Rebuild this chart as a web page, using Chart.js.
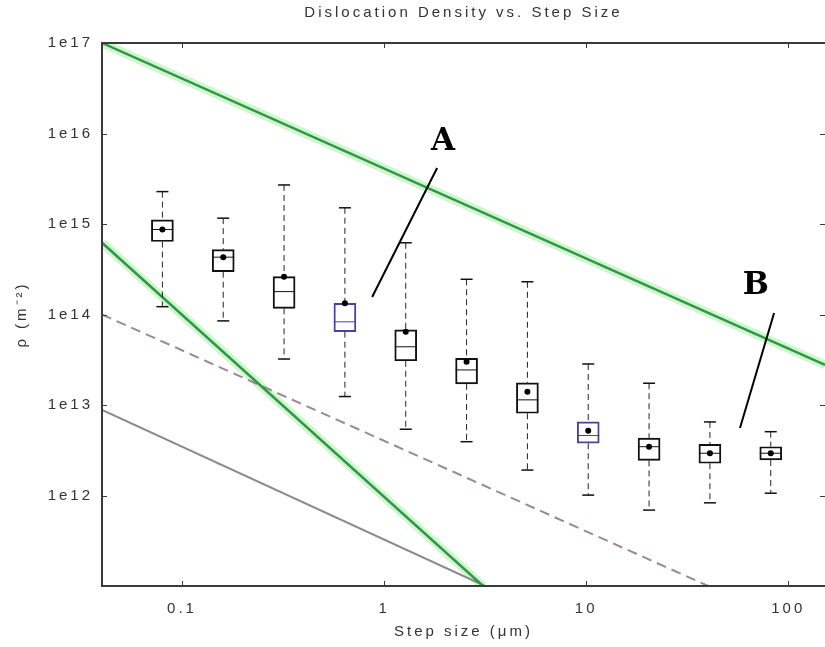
<!DOCTYPE html>
<html>
<head>
<meta charset="utf-8">
<title>Dislocation Density vs. Step Size</title>
<script src="https://cdn.jsdelivr.net/npm/chart.js@4/dist/chart.umd.min.js"></script>
<style>
  html, body { margin: 0; padding: 0; background: #fff; overflow: hidden; }
  canvas { display: block; }
</style>
</head>
<body>
<canvas id="c" width="825" height="647"></canvas>
<script>
// Step sizes (µm) of the EBSD scans
const stepSize = [0.08, 0.16, 0.32, 0.64, 1.28, 2.56, 5.12, 10.24, 20.48, 40.96, 81.92];

// Box-plot statistics of the measured dislocation density (m^-2)
const whiskerHigh   = [2.28e15, 1.16e15, 2.7e15, 1.51e15, 6.2e14, 2.45e14, 2.3e14, 2.84e13, 1.74e13, 6.5e12, 5.07e12];
const upperQuartile = [1.11e15, 5.2e14, 2.62e14, 1.33e14, 6.75e13, 3.28e13, 1.76e13, 6.5e12, 4.3e12, 3.68e12, 3.46e12];
const medianVal     = [8.7e14, 4.3e14, 1.79e14, 8.3e13, 4.4e13, 2.44e13, 1.14e13, 4.6e12, 3.46e12, 2.93e12, 2.93e12];
const lowerQuartile = [6.4e14, 2.97e14, 1.17e14, 6.46e13, 3.08e13, 1.71e13, 8.1e12, 3.78e12, 2.44e12, 2.27e12, 2.47e12];
const whiskerLow    = [1.22e14, 8.5e13, 3.22e13, 1.24e13, 5.4e12, 3.93e12, 1.91e12, 1.01e12, 6.9e11, 8.3e11, 1.06e12];
const meanVal       = [8.7e14, 4.3e14, 2.62e14, 1.33e14, 6.46e13, 3.01e13, 1.40e13, 5.2e12, 3.46e12, 2.93e12, 2.93e12];

// Resolution limits
const upperLimitX = [0.0402, 152];
const upperLimitY = [1e17, 2.77e13];
const steepLimitX = [0.0402, 3.09];
const steepLimitY = [6.2e14, 1e11];
const dashedLimitX = [0.0402, 40.2];
const dashedLimitY = [1e14, 1e11];
const lowerLimitX = [0.0402, 3.16];
const lowerLimitY = [8.8e12, 1e11];

// Tick values
const xTicks = [0.1, 1, 10, 100];
const xTickLabels = ['0.1', '1', '10', '100'];
const yTicks = [1e12, 1e13, 1e14, 1e15, 1e16, 1e17];
const yTickLabels = ['1e12', '1e13', '1e14', '1e15', '1e16', '1e17'];

// Callouts
const calloutText = ['A', 'B'];
const calloutLabelX = [1.96, 69.2];
const calloutLabelY = [8.05e15, 2.07e14];
const calloutFromX = [1.83, 85.1];
const calloutFromY = [4.16e15, 1.04e14];
const calloutToX = [0.873, 57.7];
const calloutToY = [1.56e14, 5.57e12];

const FONT = '"Liberation Sans", Arial, sans-serif';
const boxColor = stepSize.map((s, i) => (i === 3 || i === 7) ? '#44449c' : '#111');

const pts = (xs, ys) => xs.map((x, i) => ({ x: x, y: ys[i] }));

const whiskerPts = [];
stepSize.forEach((x, i) => {
  whiskerPts.push({ x, y: whiskerHigh[i] }, { x, y: upperQuartile[i] }, { x, y: null });
  whiskerPts.push({ x, y: lowerQuartile[i] }, { x, y: whiskerLow[i] }, { x, y: null });
});
const capPts = stepSize.map((x, i) => ({ x, y: whiskerHigh[i] }))
  .concat(stepSize.map((x, i) => ({ x, y: whiskerLow[i] })));

const lineDs = (data, color, width, dash) => ({
  type: 'line', data, borderColor: color, borderWidth: width, borderDash: dash || [],
  pointRadius: 0, fill: false, tension: 0
});

const framePlugin = {
  id: 'frame',
  beforeDraw(chart) {
    chart.ctx.letterSpacing = '3px';
  },
  afterDraw(chart) {
    const { ctx, chartArea: a, scales } = chart;
    ctx.save();
    ctx.letterSpacing = '0px';
    // callouts
    ctx.strokeStyle = '#000';
    ctx.lineWidth = 2;
    ctx.fillStyle = '#000';
    ctx.font = 'bold 31px "DejaVu Serif", "Liberation Serif", serif';
    ctx.textAlign = 'center';
    ctx.textBaseline = 'middle';
    calloutText.forEach((t, i) => {
      ctx.beginPath();
      ctx.moveTo(scales.x.getPixelForValue(calloutFromX[i]), scales.y.getPixelForValue(calloutFromY[i]));
      ctx.lineTo(scales.x.getPixelForValue(calloutToX[i]), scales.y.getPixelForValue(calloutToY[i]));
      ctx.stroke();
      ctx.fillText(t, scales.x.getPixelForValue(calloutLabelX[i]), scales.y.getPixelForValue(calloutLabelY[i]));
    });
    // axes (top, left, bottom) with inward ticks; the right edge runs off the canvas
    ctx.strokeStyle = '#3a3a3a';
    ctx.lineWidth = 2;
    ctx.beginPath();
    ctx.moveTo(a.right + 2, a.top);
    ctx.lineTo(a.left, a.top);
    ctx.lineTo(a.left, a.bottom);
    ctx.lineTo(a.right + 2, a.bottom);
    ctx.stroke();
    ctx.lineWidth = 1;
    ctx.beginPath();
    xTicks.forEach(v => {
      const px = Math.round(scales.x.getPixelForValue(v)) + 0.5;
      ctx.moveTo(px, a.bottom); ctx.lineTo(px, a.bottom - 5);
      ctx.moveTo(px, a.top); ctx.lineTo(px, a.top + 5);
    });
    yTicks.forEach(v => {
      const py = Math.round(scales.y.getPixelForValue(v)) + 0.5;
      ctx.moveTo(a.left, py); ctx.lineTo(a.left + 5, py);
      ctx.moveTo(a.right, py); ctx.lineTo(a.right - 5, py);
    });
    ctx.stroke();
    ctx.restore();
  }
};

new Chart(document.getElementById('c'), {
  type: 'bar',
  data: {
    datasets: [
      { type: 'scatter', data: pts(stepSize, meanVal), pointStyle: 'circle', pointRadius: 3,
        backgroundColor: '#000', borderColor: '#000', borderWidth: 0, showLine: false },
      { type: 'scatter', data: pts(stepSize, medianVal), pointStyle: 'line', pointRadius: 11,
        borderColor: boxColor, borderWidth: 1, showLine: false },
      { type: 'bar', data: stepSize.map((x, i) => ({ x, y: [lowerQuartile[i], upperQuartile[i]] })),
        barThickness: 22, backgroundColor: 'rgba(0,0,0,0)', borderColor: boxColor,
        borderWidth: 1.3, borderSkipped: false },
      { type: 'scatter', data: capPts, pointStyle: 'line', pointRadius: 6,
        borderColor: '#111', borderWidth: 1.5, showLine: false },
      Object.assign(lineDs(whiskerPts, '#222', 1, [6, 4]), { spanGaps: false }),
      lineDs(pts(upperLimitX, upperLimitY), '#2f9845', 2.5),
      lineDs(pts(steepLimitX, steepLimitY), '#2f9845', 2.5),
      lineDs(pts(dashedLimitX, dashedLimitY), '#9e8890', 2, [10, 6]),
      lineDs(pts(lowerLimitX, lowerLimitY), '#8a8a8a', 2),
      lineDs(pts(upperLimitX, upperLimitY), 'rgba(150,235,150,0.45)', 9),
      lineDs(pts(steepLimitX, steepLimitY), 'rgba(150,235,150,0.45)', 9)
    ]
  },
  options: {
    responsive: false,
    devicePixelRatio: 1,
    animation: false,
    events: [],
    layout: { padding: 0, autoPadding: false },
    plugins: {
      legend: { display: false },
      tooltip: { enabled: false },
      title: {
        display: true,
        fullSize: false,
        text: 'Dislocation Density vs. Step Size',
        color: '#333',
        font: { family: FONT, size: 15, weight: 'normal' },
        padding: { top: 4, bottom: 21 }
      }
    },
    scales: {
      x: {
        type: 'logarithmic',
        min: 0.0402, max: 152,
        offset: false,
        grid: { display: false, offset: false },
        border: { display: false },
        afterBuildTicks: s => { s.ticks = xTicks.map(v => ({ value: v })); },
        afterFit: s => { s.height = 61; s.paddingLeft = 0; s.paddingRight = 0; },
        ticks: {
          autoSkip: false, maxRotation: 0, padding: 6, color: '#333',
          font: { family: FONT, size: 15 },
          callback: v => xTickLabels[xTicks.indexOf(v)]
        },
        title: {
          display: true, text: 'Step size (μm)', color: '#333',
          font: { family: FONT, size: 15 }, padding: { top: 0, bottom: 6 }
        }
      },
      y: {
        type: 'logarithmic',
        min: 1e11, max: 1e17,
        grid: { display: false },
        border: { display: false },
        afterBuildTicks: s => { s.ticks = yTicks.map(v => ({ value: v })); },
        afterFit: s => { s.width = 102; s.paddingTop = 0; s.paddingBottom = 0; },
        ticks: {
          autoSkip: false, padding: 1, color: '#333',
          font: { family: FONT, size: 15 },
          callback: v => yTickLabels[yTicks.indexOf(v)]
        },
        title: {
          display: true, text: 'ρ (m⁻²)', color: '#333',
          font: { family: FONT, size: 15 }, padding: { top: 13, bottom: 0 }
        }
      }
    }
  },
  plugins: [framePlugin]
});
</script>
</body>
</html>
